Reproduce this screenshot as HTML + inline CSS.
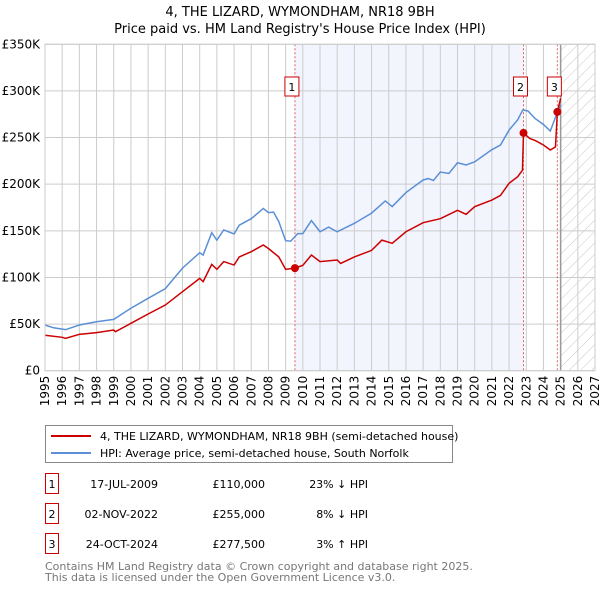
<!DOCTYPE html>
<html><head><meta charset="utf-8"><style>
body{margin:0;background:#fff;font-family:"Liberation Sans","DejaVu Sans",sans-serif;}
svg text{font-family:"DejaVu Sans","Liberation Sans",sans-serif;}
</style></head><body>
<svg id="chart" width="600" height="590" viewBox="0 0 600 590" xmlns="http://www.w3.org/2000/svg">
<defs><pattern id="hatch" width="8" height="8" patternUnits="userSpaceOnUse" patternTransform="rotate(45)"><line x1="0" y1="0" x2="0" y2="8" stroke="#c8c8c8" stroke-width="1"/></pattern></defs>
<text x="300" y="16" text-anchor="middle" font-size="13">4, THE LIZARD, WYMONDHAM, NR18 9BH</text>
<text x="300" y="33" text-anchor="middle" font-size="13">Price paid vs. HM Land Registry's House Price Index (HPI)</text>
<g id="plot"></g>
<g>
<rect x="45.5" y="425.5" width="407" height="37" fill="#fff" stroke="#888"/>
<line x1="51" y1="436" x2="91" y2="436" stroke="#cc0000" stroke-width="2"/>
<text x="100" y="440" font-size="11">4, THE LIZARD, WYMONDHAM, NR18 9BH (semi-detached house)</text>
<line x1="51" y1="453" x2="91" y2="453" stroke="#5b8fd6" stroke-width="2"/>
<text x="100" y="457" font-size="11">HPI: Average price, semi-detached house, South Norfolk</text>
</g>
<g id="table" font-size="11"></g>
<text x="45" y="570" font-size="11" fill="#777">Contains HM Land Registry data © Crown copyright and database right 2025.</text>
<text x="45" y="581" font-size="11" fill="#777">This data is licensed under the Open Government Licence v3.0.</text>
</svg>
<script>
const hpiYears=[1995,1995.5,1996.2,1997,1998,1999,2000,2001,2002,2003,2004,2004.2,2004.7,2005,2005.4,2006,2006.3,2007,2007.7,2008,2008.3,2008.6,2009,2009.3,2009.7,2010,2010.5,2011,2011.5,2012,2013,2014,2014.8,2015.2,2016,2017,2017.3,2017.6,2018,2018.5,2019,2019.5,2020,2021,2021.5,2022,2022.5,2022.8,2023.1,2023.5,2024,2024.4,2024.8,2025];
const hpiValues=[49,46,44,49,52.5,55,67,77.6,88,110,126.5,124,148,140,151,146.6,156,163,174,169.5,170,160,139.4,139,147,147,161,149,154,149,158,169,182,176,191,204.5,206,204,213,211.5,223,220.6,224,237,242,258,269,279.6,278.5,270.6,264,257,276.7,285];
const priceYears=[1995,1996,1996.2,1997,1998,1999,1999.1,2000,2001,2002,2003,2004,2004.2,2004.7,2005,2005.4,2006,2006.3,2007,2007.7,2008,2008.6,2009,2009.54,2010,2010.5,2011,2012,2012.2,2013,2014,2014.6,2015.2,2016,2017,2018,2019,2019.5,2020,2021,2021.5,2022,2022.5,2022.78,2022.84,2023.2,2023.5,2024,2024.4,2024.7,2024.81,2025];
const priceValues=[38,35.8,34.7,39,40.8,43.6,41.8,50.8,60.8,70.4,84.7,99,95.5,114,108.7,117,113.3,122,127.6,134.8,131,122,108.7,110,113,124,117,118.7,115,122,129,140,136.6,149,158.7,163,172,167.7,175.9,183,188,201,208,215,255,249,247,242,236.7,240,277.5,292];
const saleLabels=["1","2","3"];
const saleYears=[2009.54,2022.84,2024.81];
const saleValues=[110,255,277.5];
const saleDates=["17-JUL-2009","02-NOV-2022","24-OCT-2024"];
const salePrices=["£110,000","£255,000","£277,500"];
const saleDiffs=["23% ↓ HPI","8% ↓ HPI","3% ↑ HPI"];
const yTicks=[0,50,100,150,200,250,300,350];
const yTickLabels=["£0","£50K","£100K","£150K","£200K","£250K","£300K","£350K"];
const xTicks=[1995,1996,1997,1998,1999,2000,2001,2002,2003,2004,2005,2006,2007,2008,2009,2010,2011,2012,2013,2014,2015,2016,2017,2018,2019,2020,2021,2022,2023,2024,2025,2026,2027];

const NS="http://www.w3.org/2000/svg";
const X0=45,X1=595,Y0=370.7,Y1=44.3;
const x=v=>X0+(v-1995)*(X1-X0)/32;
const y=v=>Y0-(v)*(Y0-Y1)/350;
const plot=document.getElementById('plot');
function mk(tag,attrs,parent){const e=document.createElementNS(NS,tag);for(const k in attrs)e.setAttribute(k,attrs[k]);(parent||plot).appendChild(e);return e;}

let r=mk('rect',{x:x(saleYears[0]),y:Y1,width:x(saleYears[1])-x(saleYears[0]),height:Y0-Y1,fill:'#f2f5fe'});


r=mk('rect',{x:x(2025),y:Y1,width:X1-x(2025),height:Y0-Y1,fill:'url(#hatch)'});


yTicks.forEach((t,i)=>{
 const l=mk('line',{x1:X0,x2:X1,y1:y(t),y2:y(t),stroke:'#ccc'});
 
 
 const tx=mk('text',{x:40,y:y(t)+4,'text-anchor':'end','font-size':12});
 tx.textContent=yTickLabels[i];
 
 
});
xTicks.forEach(t=>{
 const l=mk('line',{x1:x(t),x2:x(t),y1:Y1,y2:Y0,stroke:'#ccc'});
 
 
 const tx=mk('text',{x:0,y:0,'text-anchor':'end','font-size':12,transform:`translate(${x(t)+4},${Y0+5}) rotate(-90)`});
 tx.textContent=t;
 
 
});
let b=mk('line',{x1:x(2025),x2:x(2025),y1:Y1,y2:Y0,stroke:'#999','stroke-width':1.5});


saleYears.forEach((s,i)=>{
 const l=mk('line',{x1:x(s),x2:x(s),y1:Y1,y2:Y0,stroke:'#e06060','stroke-dasharray':'2,2'});
 
 
});
let hp=mk('polyline',{points:hpiYears.map((v,i)=>x(v)+','+y(hpiValues[i])).join(' '),fill:'none',stroke:'#5b8fd6','stroke-width':1.5});


let pp=mk('polyline',{points:priceYears.map((v,i)=>x(v)+','+y(priceValues[i])).join(' '),fill:'none',stroke:'#cc0000','stroke-width':1.5});


let border=mk('rect',{x:X0,y:Y1,width:X1-X0,height:Y0-Y1,fill:'none',stroke:'#ccc'});


saleYears.forEach((s,i)=>{
 const c=mk('circle',{cx:x(s),cy:y(saleValues[i]),r:4,fill:'#cc0000'});
 
 
 const g=mk('g',{});
 
 
 mk('rect',{x:x(s)-10,y:77,width:14,height:19,fill:'#fff',stroke:'#cc0000'},g);
 const t=mk('text',{x:x(s)-3,y:91,'text-anchor':'middle','font-size':11},g);
 t.textContent=saleLabels[i];
});
const tbl=document.getElementById('table');
saleLabels.forEach((lab,i)=>{
 const yy=474+i*30;
 const g=mk('g',{},tbl);
 
 
 mk('rect',{x:45.5,y:yy-0.5,width:13,height:20,fill:'#fff',stroke:'#cc0000'},g);
 let t=mk('text',{x:52,y:yy+14,'text-anchor':'middle'},g);t.textContent=lab;
 t=mk('text',{x:158,y:yy+14,'text-anchor':'end'},g);t.textContent=saleDates[i];
 t=mk('text',{x:265,y:yy+14,'text-anchor':'end'},g);t.textContent=salePrices[i];
 t=mk('text',{x:368,y:yy+14,'text-anchor':'end'},g);t.textContent=saleDiffs[i];
});
</script>
</body></html>
